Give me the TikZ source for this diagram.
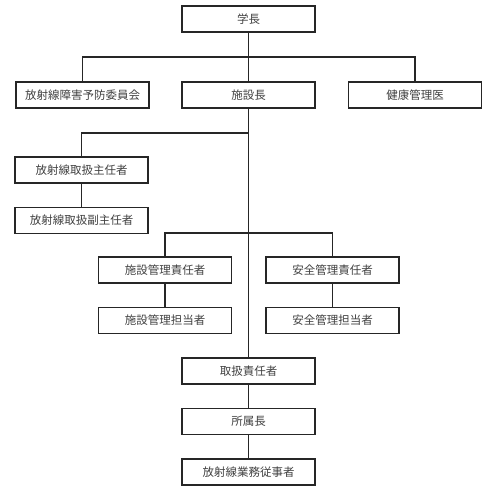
\documentclass[tikz,border=0pt]{standalone}
\usepackage{fontspec}
\newfontfamily\jp{Noto Sans CJK JP}
\begin{document}
\begin{tikzpicture}[x=1pt,y=-1pt,
  box/.style={draw=black!85,line width=1.2pt,minimum width=133pt,minimum height=26pt,inner sep=0pt,text=black!75,font=\jp\fontsize{11.5pt}{12pt}\selectfont},
  conn/.style={draw=black!85,line width=1.1pt}]
\useasboundingbox (0,0) rectangle (495,492);
\node[box] (gaku) at (248.5,19) {学長};
\node[box] (iinkai) at (82.5,95) {放射線障害予防委員会};
\node[box] (shisetsu) at (248.5,95) {施設長};
\node[box] (kenko) at (415,95) {健康管理医};
\node[box] (shunin) at (81.5,170) {放射線取扱主任者};
\node[box] (fuku) at (81.5,220.5) {放射線取扱副主任者};
\node[box] (kanri) at (165,270) {施設管理責任者};
\node[box] (anzen) at (332.5,270) {安全管理責任者};
\node[box] (kanritan) at (165,320.5) {施設管理担当者};
\node[box] (anzentan) at (332.5,320.5) {安全管理担当者};
\node[box] (tori) at (248.5,371) {取扱責任者};
\node[box] (shozoku) at (248.5,421.5) {所属長};
\node[box] (juji) at (248.5,472) {放射線業務従事者};
\coordinate (b1) at (248.5,57);
\coordinate (b2) at (248.5,133);
\coordinate (b3) at (248.5,233);
\draw[conn] (gaku) -- (shisetsu);
\draw[conn] (iinkai.north) |- (b1) -| (kenko.north);
\draw[conn] (shisetsu) -- (tori);
\draw[conn] (shunin.north) |- (b2);
\draw[conn] (shunin) -- (fuku);
\draw[conn] (kanri.north) |- (b3) -| (anzen.north);
\draw[conn] (kanri) -- (kanritan);
\draw[conn] (anzen) -- (anzentan);
\draw[conn] (tori) -- (shozoku);
\draw[conn] (shozoku) -- (juji);
\end{tikzpicture}
\end{document}
